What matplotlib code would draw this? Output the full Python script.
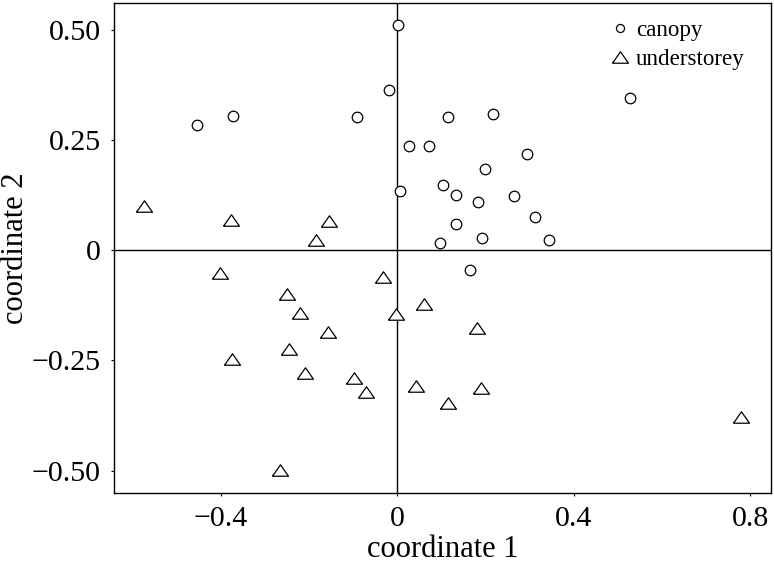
import numpy as np
import matplotlib.pyplot as plt
from matplotlib.lines import Line2D

plt.rcParams['font.family'] = ['Liberation Serif', 'DejaVu Serif']

# canopy sites (circles)
canopy_x = [-0.455, -0.373, -0.092, -0.019, 0.002, 0.006, 0.115, 0.216, 0.027, 0.072,
            0.293, 0.199, 0.527, 0.104, 0.132, 0.182, 0.264, 0.312, 0.134, 0.192,
            0.096, 0.343, 0.165]
canopy_y = [0.286, 0.305, 0.303, 0.365, 0.513, 0.135, 0.302, 0.311, 0.238, 0.238,
            0.220, 0.186, 0.346, 0.148, 0.126, 0.109, 0.124, 0.076, 0.060, 0.028,
            0.016, 0.023, -0.045]

# understorey sites (triangles)
under_x = [-0.573, -0.377, -0.154, -0.184, -0.401, -0.250, -0.220, -0.156, -0.374, -0.245,
           -0.210, -0.098, -0.072, -0.266, -0.032, -0.003, 0.060, 0.180, 0.042, 0.189,
           0.114, 0.780]
under_y = [0.102, 0.068, 0.067, 0.023, -0.051, -0.099, -0.143, -0.186, -0.247, -0.223,
           -0.278, -0.289, -0.322, -0.498, -0.061, -0.145, -0.121, -0.176, -0.308, -0.312,
           -0.346, -0.379]

xticks = [-0.4, 0, 0.4, 0.8]
xticklabels = ['\u22120.4', '0', '0.4', '0.8']
yticks = [-0.5, -0.25, 0, 0.25, 0.5]
yticklabels = ['\u22120.50', '\u22120.25', '0', '0.25', '0.50']

# wide, flat triangle like the original
tri = [(-0.6, -0.43), (0.6, -0.43), (0, 0.43), (-0.6, -0.43)]

fig = plt.figure(figsize=(7.74, 5.68), dpi=100)
ax = fig.add_axes([114 / 774, 1 - 493 / 568, (771 - 114) / 774, (493 - 3) / 568])

ax.axhline(0, color='black', lw=1.0, zorder=1)
ax.axvline(0, color='black', lw=1.0, zorder=1)

ax.plot(canopy_x, canopy_y, linestyle='none', marker='o', ms=7.6, mfc='white',
        mec='black', mew=0.9, zorder=3)
ax.plot(under_x, under_y, linestyle='none', marker=tri, ms=11.5, mfc='white',
        mec='black', mew=0.9, zorder=3)

ax.set_xlim(-0.642, 0.847)
ax.set_ylim(-0.551, 0.562)
ax.set_xticks(xticks)
ax.set_xticklabels(xticklabels)
ax.set_yticks(yticks)
ax.set_yticklabels(yticklabels)
ax.tick_params(direction='out', length=2.5, width=0.8, labelsize=21.5, pad=7)
for sp in ax.spines.values():
    sp.set_linewidth(1.0)

ax.set_xlabel('coordinate 1', fontsize=22, labelpad=2)
ax.set_ylabel('coordinate 2', fontsize=22, labelpad=1.5)

handles = [
    Line2D([], [], linestyle='none', marker='o', ms=5.8, mfc='white', mec='black', mew=0.9),
    Line2D([], [], linestyle='none', marker=tri, ms=11.5, mfc='white', mec='black', mew=0.9),
]
ax.legend(handles, ['canopy', 'understorey'], loc='upper left',
          bbox_to_anchor=(608 / 774, 1 - 20 / 568), bbox_transform=fig.transFigure,
          frameon=False, fontsize=16.6, handlelength=1.0, handletextpad=0.22,
          labelspacing=0.32, borderpad=0, borderaxespad=0)

fig.savefig('out.png', dpi=100)
